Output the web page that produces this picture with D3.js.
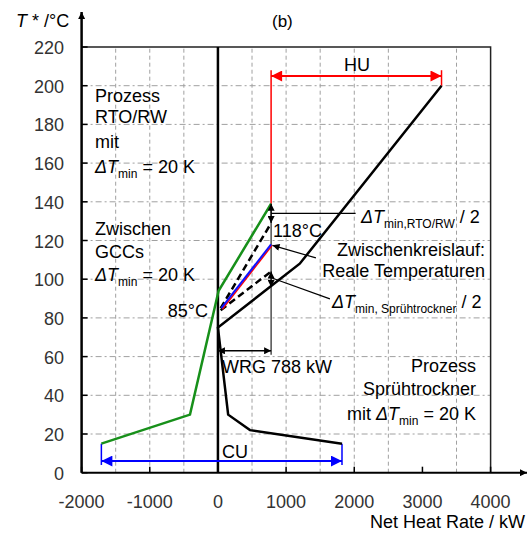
<!DOCTYPE html>
<html><head><meta charset="utf-8">
<script src="https://cdn.jsdelivr.net/npm/d3@7"></script>
<style>
body{margin:0;background:#fff;}
svg{font-family:"Liberation Sans",Arial,sans-serif;}
</style></head><body>
<svg id="chart" width="528" height="536"></svg>
<script>
'use strict';
const xTicks = [-2000,-1000,0,1000,2000,3000,4000];
const yTicks = [0,20,40,60,80,100,120,140,160,180,200,220];
const xGrid = [-1500,-1000,-500,500,1000,1500,2000,2500,3500];
const yGrid = [20,40,60,80,100,120,140,160,180,200];
// Prozess Sprühtrockner (schwarz) und RTO/RW (grün)
const sprayGCC = [[1820,15],[470,22],[150,30],[0,75],[1200,108],[3280,200]];
const rtoGCC = [[-1710,15],[-410,30],[10,94],[780,139]];
// Zwischenkreislauf
const loopReal = [[50,85],[780,118]];
const loopUpper = [[40,85],[780,129]];
const loopLower = [[40,84],[780,104]];
const huSpan = [780,3280], huT = 205;
const cuSpan = [-1710,1820], cuT = 6;
const wrgSpan = [0,780], wrgT = 63;

const W = 528, H = 536;
const m = {l:81.6, t:47, r:37.4, b:63.3};
const svg = d3.select('#chart');
const x = d3.scaleLinear().domain([-2000,4000]).range([m.l, W-m.r]);
const y = d3.scaleLinear().domain([0,220]).range([H-m.b, m.t]);
const line = d3.line().x(d=>x(d[0])).y(d=>y(d[1]));

const defs = svg.append('defs');
function marker(id, color, w, h) {
  defs.append('marker').attr('id',id).attr('viewBox','0 0 10 10').attr('refX',10).attr('refY',5)
    .attr('markerUnits','userSpaceOnUse').attr('markerWidth',w).attr('markerHeight',h).attr('orient','auto-start-reverse')
    .append('path').attr('d','M0,0L10,5L0,10Z').attr('fill',color);
}
marker('arR','#ff0000',12,11);
marker('arB','#0000ff',12,11);
marker('arK','#000',10,7);
marker('arS','#000',8,7);

// grid
svg.append('g').selectAll('line').data(yGrid).join('line')
  .attr('x1',x(-2000)).attr('x2',x(4000)).attr('y1',d=>y(d)).attr('y2',d=>y(d))
  .attr('stroke','#a0a0a0').attr('stroke-width',1).attr('stroke-dasharray','6,3,2,3');
svg.append('g').selectAll('line').data(xGrid).join('line')
  .attr('x1',d=>x(d)).attr('x2',d=>x(d)).attr('y1',y(0)).attr('y2',y(220))
  .attr('stroke','#a0a0a0').attr('stroke-width',1).attr('stroke-dasharray','4,3');

// frame
svg.append('path').attr('d',`M${x(-2000)},${y(220)}H${x(4000)}V${y(0)}`).attr('fill','none').attr('stroke','#222').attr('stroke-width',1.5);
svg.append('line').attr('x1',x(0)).attr('x2',x(0)).attr('y1',y(0)).attr('y2',y(220)).attr('stroke','#000').attr('stroke-width',2.5);

// axes
svg.append('line').attr('x1',x(-2000)).attr('x2',x(-2000)).attr('y1',y(0)).attr('y2',12)
  .attr('stroke','#000').attr('stroke-width',2.5).attr('marker-end','url(#arK)');
svg.append('line').attr('x1',x(-2000)).attr('x2',527).attr('y1',y(0)).attr('y2',y(0))
  .attr('stroke','#000').attr('stroke-width',2).attr('marker-end','url(#arK)');
svg.append('g').selectAll('line').data(yTicks).join('line')
  .attr('x1',x(-2000)).attr('x2',x(-2000)+6).attr('y1',d=>y(d)).attr('y2',d=>y(d)).attr('stroke','#000').attr('stroke-width',1.5);
svg.append('g').selectAll('line').data(xTicks).join('line')
  .attr('x1',d=>x(d)).attr('x2',d=>x(d)).attr('y1',y(0)).attr('y2',y(0)-6).attr('stroke','#000').attr('stroke-width',1.5);
svg.append('g').selectAll('text').data(yTicks).join('text')
  .attr('x',64).attr('y',d=>y(d)+7).attr('text-anchor','end').attr('font-size',18).attr('fill','#333').text(d=>d);
svg.append('g').selectAll('text').data(xTicks).join('text')
  .attr('x',d=>x(d)).attr('y',508).attr('text-anchor','middle').attr('font-size',18).attr('fill','#333').text(d=>d);

const yl = svg.append('text').attr('x',16).attr('y',27).attr('font-size',18);
yl.append('tspan').attr('font-style','italic').text('T');
yl.append('tspan').text(' * /°C');
svg.append('text').attr('x',525).attr('y',528).attr('text-anchor','end').attr('font-size',18).text('Net Heat Rate / kW');
svg.append('text').attr('x',272).attr('y',27).attr('font-size',17).text('(b)');

// HU / CU / WRG
svg.append('line').attr('x1',x(780)).attr('x2',x(780)).attr('y1',y(139)).attr('y2',y(208)).attr('stroke','#ff0000').attr('stroke-width',1.5);
svg.append('line').attr('x1',x(huSpan[1])).attr('x2',x(huSpan[1])).attr('y1',y(200)).attr('y2',y(208)).attr('stroke','#ff0000').attr('stroke-width',1.5);
svg.append('line').attr('x1',x(huSpan[0])).attr('x2',x(huSpan[1])).attr('y1',y(huT)).attr('y2',y(huT))
  .attr('stroke','#ff0000').attr('stroke-width',2).attr('marker-start','url(#arR)').attr('marker-end','url(#arR)');
[cuSpan[0],cuSpan[1]].forEach(v => svg.append('line').attr('x1',x(v)).attr('x2',x(v)).attr('y1',y(15)).attr('y2',y(4)).attr('stroke','#0000ff').attr('stroke-width',1.5));
svg.append('line').attr('x1',x(cuSpan[0])).attr('x2',x(cuSpan[1])).attr('y1',y(cuT)).attr('y2',y(cuT))
  .attr('stroke','#0000ff').attr('stroke-width',2).attr('marker-start','url(#arB)').attr('marker-end','url(#arB)');
svg.append('line').attr('x1',x(780)).attr('x2',x(780)).attr('y1',y(139)).attr('y2',y(61)).attr('stroke','#222').attr('stroke-width',1.2);
svg.append('line').attr('x1',x(wrgSpan[0])).attr('x2',x(wrgSpan[1])).attr('y1',y(wrgT)).attr('y2',y(wrgT))
  .attr('stroke','#000').attr('stroke-width',1.5).attr('marker-start','url(#arK)').attr('marker-end','url(#arK)');

// curves
svg.append('path').datum(rtoGCC).attr('d',line).attr('fill','none').attr('stroke','#17901a').attr('stroke-width',2.5);
svg.append('path').datum(sprayGCC).attr('d',line).attr('fill','none').attr('stroke','#000').attr('stroke-width',2.5);
svg.append('path').datum(loopUpper).attr('d',line).attr('fill','none').attr('stroke','#000').attr('stroke-width',2.5).attr('stroke-dasharray','7,4');
svg.append('path').datum(loopLower).attr('d',line).attr('fill','none').attr('stroke','#000').attr('stroke-width',2.5).attr('stroke-dasharray','7,4');
svg.append('path').datum(loopReal).attr('d',line).attr('fill','none').attr('stroke','#ff0000').attr('stroke-width',1.5).attr('transform','translate(1,1)');
svg.append('path').datum(loopReal).attr('d',line).attr('fill','none').attr('stroke','#1010ff').attr('stroke-width',2);

// ΔT/2 markers and leaders
function seg(a, b, mk, w) {
  const l = svg.append('line').attr('x1',x(a[0])).attr('y1',y(a[1])).attr('x2',x(b[0])).attr('y2',y(b[1]))
    .attr('stroke','#000').attr('stroke-width',w||1.2);
  if (mk) l.attr('marker-end',`url(#${mk})`);
}
seg([780,134],[780,139],'arS'); seg([780,134],[780,129],'arS');
seg([780,100],[780,104],'arS'); seg([780,100],[780,96],'arS');
seg([780,134],[2020,134]);
seg([792,100.6],[1643,89.8]);
seg([1437,111],[800,117.5],'arS');

// texts
function txt(px, py, s, anchor) {
  return svg.append('text').attr('x',px).attr('y',py).attr('font-size',18).attr('text-anchor',anchor||'start').text(s);
}
function dT(px, py, pre, sub, tail, anchor) {
  const t = svg.append('text').attr('x',px).attr('y',py).attr('font-size',18).attr('text-anchor',anchor||'start');
  if (pre) t.append('tspan').text(pre);
  t.append('tspan').attr('font-style','italic').text('ΔT');
  t.append('tspan').attr('font-size',12).attr('dy',5).text(sub);
  t.append('tspan').attr('dy',-5).text(tail);
}
txt(95,102,'Prozess'); txt(95,123,'RTO/RW'); txt(95,148,'mit');
dT(95,173,'','min',' = 20 K');
txt(95,235,'Zwischen'); txt(95,258,'GCCs');
dT(95,281,'','min',' = 20 K');
txt(208,317,'85°C','end');
txt(273,237,'118°C');
dT(361,223,'','min,RTO/RW',' / 2');
txt(485,256,'Zwischenkreislauf:','end');
txt(485,277,'Reale Temperaturen','end');
dT(332,308,'','min, Sprühtrockner',' / 2');
txt(222,373,'WRG 788 kW');
txt(476,372,'Prozess','end'); txt(476,395,'Sprühtrockner','end');
dT(476,420,'mit ','min',' = 20 K','end');
txt(222,458,'CU');
txt(357,71,'HU','middle');
</script>
</body></html>
